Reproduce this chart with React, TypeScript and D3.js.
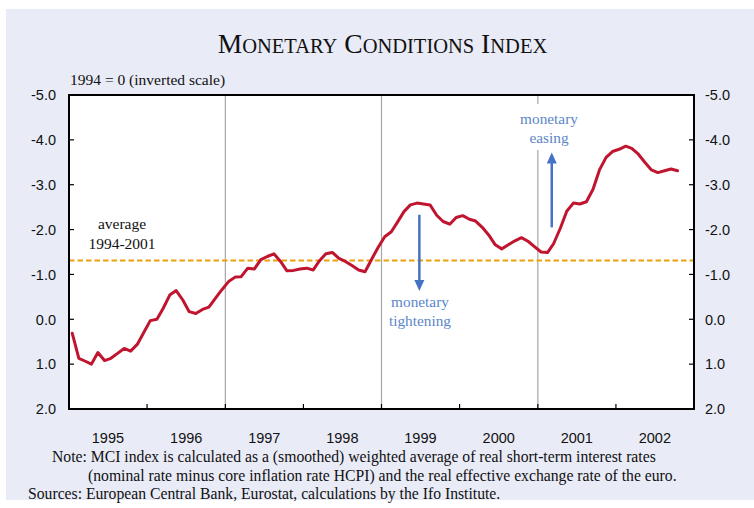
import React from "react";
import * as d3 from "d3";

const mciValues: number[] = [
  0.31, 0.87, 0.93, 1.0, 0.74, 0.92, 0.87, 0.76, 0.65, 0.71, 0.56, 0.3,
  0.03, 0.0, -0.24, -0.54, -0.64, -0.43, -0.17, -0.13, -0.22, -0.27, -0.47, -0.66,
  -0.84, -0.94, -0.95, -1.14, -1.12, -1.33, -1.4, -1.46, -1.29, -1.08, -1.09, -1.12,
  -1.14, -1.1, -1.3, -1.46, -1.49, -1.36, -1.29, -1.2, -1.1, -1.06, -1.34, -1.6,
  -1.84, -1.95, -2.16, -2.4, -2.55, -2.59, -2.57, -2.55, -2.32, -2.18, -2.12, -2.27,
  -2.31, -2.23, -2.19, -2.05, -1.88, -1.66, -1.57, -1.66, -1.75, -1.82, -1.74, -1.62,
  -1.5, -1.49, -1.69, -2.03, -2.41, -2.59, -2.57, -2.62, -2.9, -3.33, -3.61, -3.74,
  -3.79, -3.86, -3.81, -3.68, -3.5, -3.33, -3.27, -3.31, -3.35, -3.31,
];
const startYear = 1995;
const yearLabels: number[] = [1995, 1996, 1997, 1998, 1999, 2000, 2001, 2002];
const yTicks: number[] = [-5, -4, -3, -2, -1, 0, 1, 2];
const markerYears: number[] = [1997, 1999, 2001];
const averageValue = -1.31;
const tighteningAt = { date: new Date(1999, 5, 27), from: -2.33, to: -0.63 };
const easingAt = { date: new Date(2001, 2, 7), from: -2.05, to: -3.72 };

const W = 754;
const H = 508;
const M = { left: 69, right: 694, top: 95, bottom: 409 };

const serif = "'Liberation Serif', 'Times New Roman', serif";
const sans = "'Liberation Sans', Arial, sans-serif";
const blue = "#4472C4";
const blueText = "#5B86C8";

export default function App() {
  const x = d3
    .scaleTime()
    .domain([new Date(startYear, 0, 1), new Date(startYear + 8, 0, 1)])
    .range([M.left, M.right]);
  const y = d3.scaleLinear().domain([-5, 2]).range([M.top, M.bottom]);

  const dateOf = (i: number) => new Date(startYear, i, 16);
  const line = d3
    .line<number>()
    .x((_, i) => x(dateOf(i)))
    .y((d) => y(d))
    .curve(d3.curveLinear);

  const yearTicks = d3.range(startYear + 1, startYear + 8).map((yy) => new Date(yy, 0, 1));

  const tx = x(tighteningAt.date);
  const ty0 = y(tighteningAt.from);
  const ty1 = y(tighteningAt.to);
  const ex = x(easingAt.date);
  const ey0 = y(easingAt.from);
  const ey1 = y(easingAt.to);

  return (
    <svg width={W} height={H} style={{ position: "absolute", left: 0, top: 0 }}>
      <rect x={0} y={0} width={W} height={H} fill="#ffffff" />
      <rect x={6} y={9} width={W - 6} height={491} fill="#E9EBF7" />
      <rect x={M.left} y={M.top} width={M.right - M.left} height={M.bottom - M.top} fill="#ffffff" />

      {/* title */}
      <text x={382.5} y={53} textAnchor="middle" fontFamily={serif} fill="#111">
        <tspan fontSize={27.5}>M</tspan>
        <tspan fontSize={20.5}>ONETARY</tspan>
        <tspan fontSize={27.5}> C</tspan>
        <tspan fontSize={20.5}>ONDITIONS</tspan>
        <tspan fontSize={27.5}> I</tspan>
        <tspan fontSize={20.5}>NDEX</tspan>
      </text>
      <text x={70} y={85} fontFamily={serif} fontSize={15.5} fill="#111">
        1994 = 0 (inverted scale)
      </text>

      {/* year markers */}
      {markerYears.map((yy) => (
        <line
          key={yy}
          x1={x(new Date(yy, 0, 1))}
          x2={x(new Date(yy, 0, 1))}
          y1={M.top}
          y2={M.bottom}
          stroke="#A6A6A6"
          strokeWidth={1.2}
        />
      ))}

      {/* average */}
      <line
        x1={M.left}
        x2={M.right}
        y1={y(averageValue)}
        y2={y(averageValue)}
        stroke="#EBA20A"
        strokeWidth={2}
        strokeDasharray="5.5,3"
      />
      <text x={122} y={229} textAnchor="middle" fontFamily={serif} fontSize={15.5} fill="#111">
        average
      </text>
      <text x={122} y={249} textAnchor="middle" fontFamily={serif} fontSize={15.5} fill="#111">
        1994-2001
      </text>

      {/* easing label box */}
      <rect x={516} y={104} width={68} height={46} fill="#ffffff" />
      <text x={549} y={124} textAnchor="middle" fontFamily={serif} fontSize={15.3} fill={blueText}>
        monetary
      </text>
      <text x={549} y={143} textAnchor="middle" fontFamily={serif} fontSize={15.3} fill={blueText}>
        easing
      </text>
      <text x={420} y={307} textAnchor="middle" fontFamily={serif} fontSize={15.3} fill={blueText}>
        monetary
      </text>
      <text x={420} y={326} textAnchor="middle" fontFamily={serif} fontSize={15.3} fill={blueText}>
        tightening
      </text>

      {/* arrows */}
      <line x1={tx} x2={tx} y1={ty0} y2={ty1 - 10} stroke={blue} strokeWidth={2.5} />
      <path d={`M${tx - 5},${ty1 - 11}L${tx + 5},${ty1 - 11}L${tx},${ty1}Z`} fill={blue} />
      <line x1={ex} x2={ex} y1={ey0} y2={ey1 + 10} stroke={blue} strokeWidth={2.5} />
      <path d={`M${ex - 5},${ey1 + 11}L${ex + 5},${ey1 + 11}L${ex},${ey1}Z`} fill={blue} />

      {/* series */}
      <path
        d={line(mciValues) || ""}
        fill="none"
        stroke="#C0152F"
        strokeWidth={3}
        strokeLinejoin="round"
        strokeLinecap="round"
      />

      {/* frame */}
      <rect
        x={M.left}
        y={M.top}
        width={M.right - M.left}
        height={M.bottom - M.top}
        fill="none"
        stroke="#000"
        strokeWidth={2}
      />

      {/* y ticks */}
      {yTicks.map((t) => (
        <g key={t}>
          <line x1={M.left} x2={M.left + 5} y1={y(t)} y2={y(t)} stroke="#000" strokeWidth={1.2} />
          <line x1={M.right - 5} x2={M.right} y1={y(t)} y2={y(t)} stroke="#000" strokeWidth={1.2} />
          <text
            x={56}
            y={y(t)}
            dy="0.36em"
            textAnchor="end"
            fontFamily={sans}
            fontSize={14.5}
            fill="#111"
          >
            {t.toFixed(1)}
          </text>
          <text x={705} y={y(t)} dy="0.36em" fontFamily={sans} fontSize={14.5} fill="#111">
            {t.toFixed(1)}
          </text>
        </g>
      ))}

      {/* x ticks */}
      {yearTicks.map((d) => (
        <line
          key={d.getTime()}
          x1={x(d)}
          x2={x(d)}
          y1={M.bottom}
          y2={M.bottom - 5}
          stroke="#000"
          strokeWidth={1.2}
        />
      ))}
      {yearLabels.map((yy) => (
        <text
          key={yy}
          x={x(new Date(yy, 6, 2))}
          y={443}
          textAnchor="middle"
          fontFamily={sans}
          fontSize={14.5}
          fill="#111"
        >
          {yy}
        </text>
      ))}

      {/* notes */}
      <text x={52} y={462} fontFamily={serif} fontSize={15.7} fill="#111">
        Note: MCI index is calculated as a (smoothed) weighted average of real short-term interest rates
      </text>
      <text x={88} y={481} fontFamily={serif} fontSize={15.7} fill="#111">
        (nominal rate minus core inflation rate HCPI) and the real effective exchange rate of the euro.
      </text>
      <text x={28} y={499} fontFamily={serif} fontSize={15.7} fill="#111">
        Sources: European Central Bank, Eurostat, calculations by the Ifo Institute.
      </text>
    </svg>
  );
}
